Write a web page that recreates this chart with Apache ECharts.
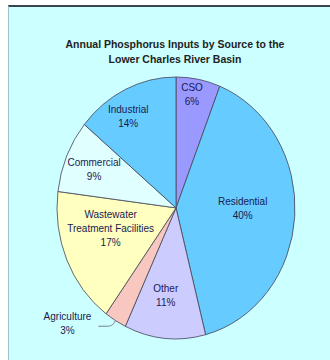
<!DOCTYPE html>
<html>
<head>
<meta charset="utf-8">
<script src="https://cdn.jsdelivr.net/npm/echarts@6/dist/echarts.min.js"></script>
<style>
  html, body { margin: 0; padding: 0; background: #fff; }
  .panel {
    position: absolute; left: 8px; top: 5px; width: 322px; height: 355px;
    background: #ccffff;
    border-top: 2px solid #3a4450;
    border-left: 1px solid #a0c4cc;
    box-sizing: border-box;
  }
  /* the source picture is stretched a little vertically */
  #chart {
    position: absolute; left: 0; top: 0; width: 330px; height: 327px;
    transform: scaleY(1.1); transform-origin: 0 0;
  }
</style>
</head>
<body>
<div class="panel"></div>
<div id="chart"></div>
<script>
// clockwise from 12 o'clock
const sources = ['CSO', 'Residential', 'Other', 'Agriculture', 'Wastewater\nTreatment Facilities', 'Commercial', 'Industrial']
const shares = [6, 40, 11, 3, 17, 9, 14]

const colors = ['#9999ff', '#66ccff', '#ccccff', '#f8c8c0', '#ffffc0', '#e0ffff', '#66ccff']
// inside labels: share of the radius and a small turn (deg, clockwise) off the slice middle
const labelRadius = [0.88, 0.56, 0.67, null, 0.57, 0.75, 0.81]
const labelTurn = [-2, -3.5, 2, 0, 8, 0, -4.5]

const CX = 176, CY = 189, R = 119

const chart = echarts.init(document.getElementById('chart'), null, { renderer: 'svg' })

chart.setOption({
  animation: false,
  textStyle: { fontFamily: 'Liberation Sans, Arial, sans-serif' },
  title: {
    text: 'Annual Phosphorus Inputs by Source to the\nLower Charles River Basin',
    left: 175,
    top: 33,
    padding: 0,
    textAlign: 'center',
    textStyle: { fontSize: 10.5, fontWeight: 'bold', color: '#222', lineHeight: 13.5 },
  },
  series: [
    {
      type: 'pie',
      center: [CX, CY],
      radius: R,
      startAngle: 90,
      clockwise: true,
      itemStyle: { borderColor: '#4a4a5a', borderWidth: 0.8 },
      label: {
        position: 'inside',
        formatter: '{b}\n{d}%',
        fontSize: 10,
        lineHeight: 13,
        color: '#1a1a50',
      },
      labelLine: { show: false },
      emphasis: { disabled: true },
      data: sources.map((name, i) => {
        const item = { name, value: shares[i], itemStyle: { color: colors[i] } }
        if (labelRadius[i] === null) {
          item.label = { position: 'outside', align: 'center' }
          item.labelLine = { show: true, length: 6, length2: 14, smooth: 0.4, lineStyle: { color: '#667', width: 0.8 } }
        }
        return item
      }),
      labelLayout: (p) => {
        const f = labelRadius[p.dataIndex]
        const r = p.labelRect
        if (f === null) {
          return { align: 'center', dx: -r.width / 2 - 2, dy: -3 }
        }
        const lx = r.x + r.width / 2
        const ly = r.y + r.height / 2
        let vx = lx - CX
        let vy = ly - CY
        const d = Math.sqrt(vx * vx + vy * vy)
        const t = (labelTurn[p.dataIndex] * Math.PI) / 180
        const s = (f * R) / d
        const nx = (vx * Math.cos(t) - vy * Math.sin(t)) * s
        const ny = (vx * Math.sin(t) + vy * Math.cos(t)) * s
        return { dx: CX + nx - lx, dy: CY + ny - ly }
      },
    },
  ],
})
</script>
</body>
</html>
